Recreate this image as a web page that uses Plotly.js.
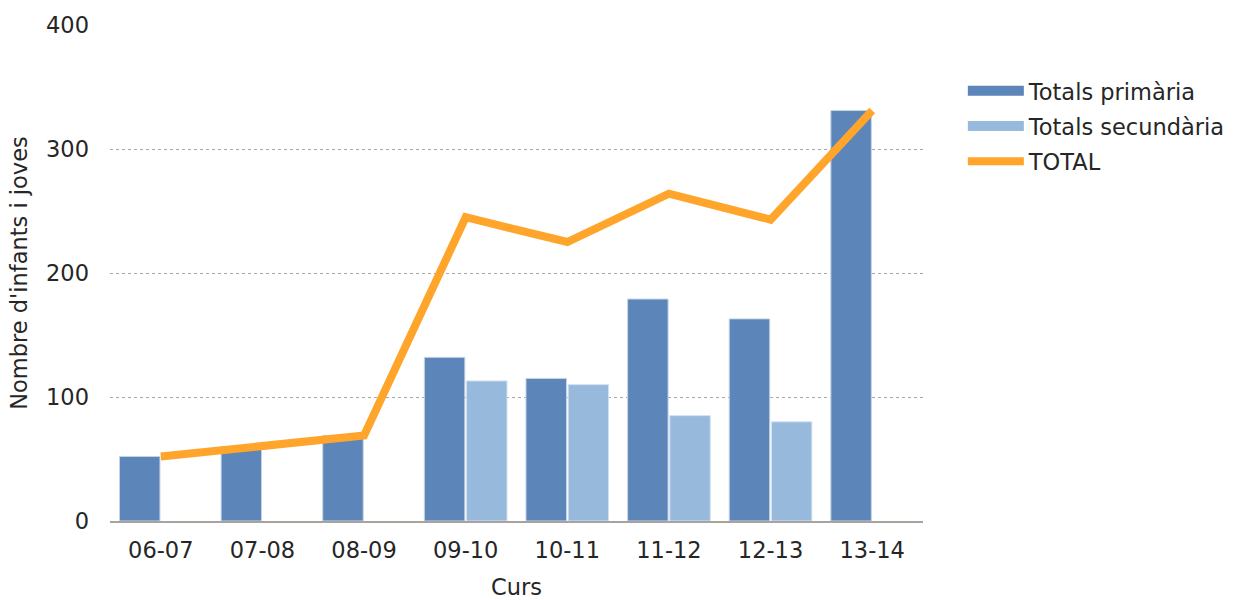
<!DOCTYPE html>
<html><head><meta charset="utf-8">
<script src="https://cdn.plot.ly/plotly-3.0.1.min.js"></script>
<style>html,body{margin:0;padding:0;background:#fff}</style>
</head><body>
<div id="chart" style="width:1243px;height:600px"></div>
<script>
const categories = ["06-07","07-08","08-09","09-10","10-11","11-12","12-13","13-14"];
const primaria = [52, 60, 69, 132, 115, 179, 163, 331];
const secundaria = [null, null, null, 113, 110, 85, 80, null];
const total = [52, 60, 69, 245, 225, 264, 243, 331];
const seriesNames = ["Totals primària", "Totals secundària", "TOTAL"];
const colors = ["#5C85B9", "#96B9DC", "#FFA52C"];

const font = {family: "DejaVu Sans, Verdana, sans-serif", color: "#262626", size: 22.5};
const traces = [
  {type: "bar", name: seriesNames[0], x: categories, y: primaria, showlegend: false,
   marker: {color: colors[0], line: {color: "#C6D4E6", width: 1}}},
  {type: "bar", name: seriesNames[1], x: categories, y: secundaria, showlegend: false,
   marker: {color: colors[1], line: {color: "#D5E3F1", width: 1}}},
  {type: "scatter", mode: "lines", name: seriesNames[2], x: categories, y: total, showlegend: false,
   line: {color: colors[2], width: 8}},
  // legend entries (wide rectangular swatches as in the reference)
  {type: "scatter", mode: "lines", name: seriesNames[0], x: [null], y: [null], legendgroup: "a",
   line: {color: colors[0], width: 10}},
  {type: "scatter", mode: "lines", name: seriesNames[1], x: [null], y: [null], legendgroup: "b",
   line: {color: colors[1], width: 10}},
  {type: "scatter", mode: "lines", name: seriesNames[2], x: [null], y: [null], legendgroup: "c",
   line: {color: colors[2], width: 8}}
];
const layout = {
  width: 1243, height: 600,
  margin: {l: 110, r: 318, t: 25, b: 79},
  paper_bgcolor: "#fff", plot_bgcolor: "#fff",
  font: font,
  barmode: "group", bargap: 0.17, bargroupgap: 0.04,
  xaxis: {type: "category", title: {text: "Curs", font: font, standoff: 20}, showline: true,
          linecolor: "#A9A39D", linewidth: 2, ticks: "", tickfont: font, showgrid: false,
          zeroline: false, ticklabelstandoff: 8},
  yaxis: {title: {text: "Nombre d'infants i joves", font: font, standoff: 12}, range: [0, 400], dtick: 100,
          showgrid: true, gridcolor: "#A6A6A6", griddash: "dot", gridwidth: 1, zeroline: false,
          ticks: "", tickfont: font, ticklabelstandoff: 20},
  legend: {x: 1.049, y: 0.91, xanchor: "left", yanchor: "top", font: font, tracegroupgap: 3,
           itemwidth: 56, bgcolor: "rgba(0,0,0,0)"},
  showlegend: true
};
Plotly.newPlot("chart", traces, layout, {displayModeBar: false, staticPlot: true});
</script>
</body></html>
